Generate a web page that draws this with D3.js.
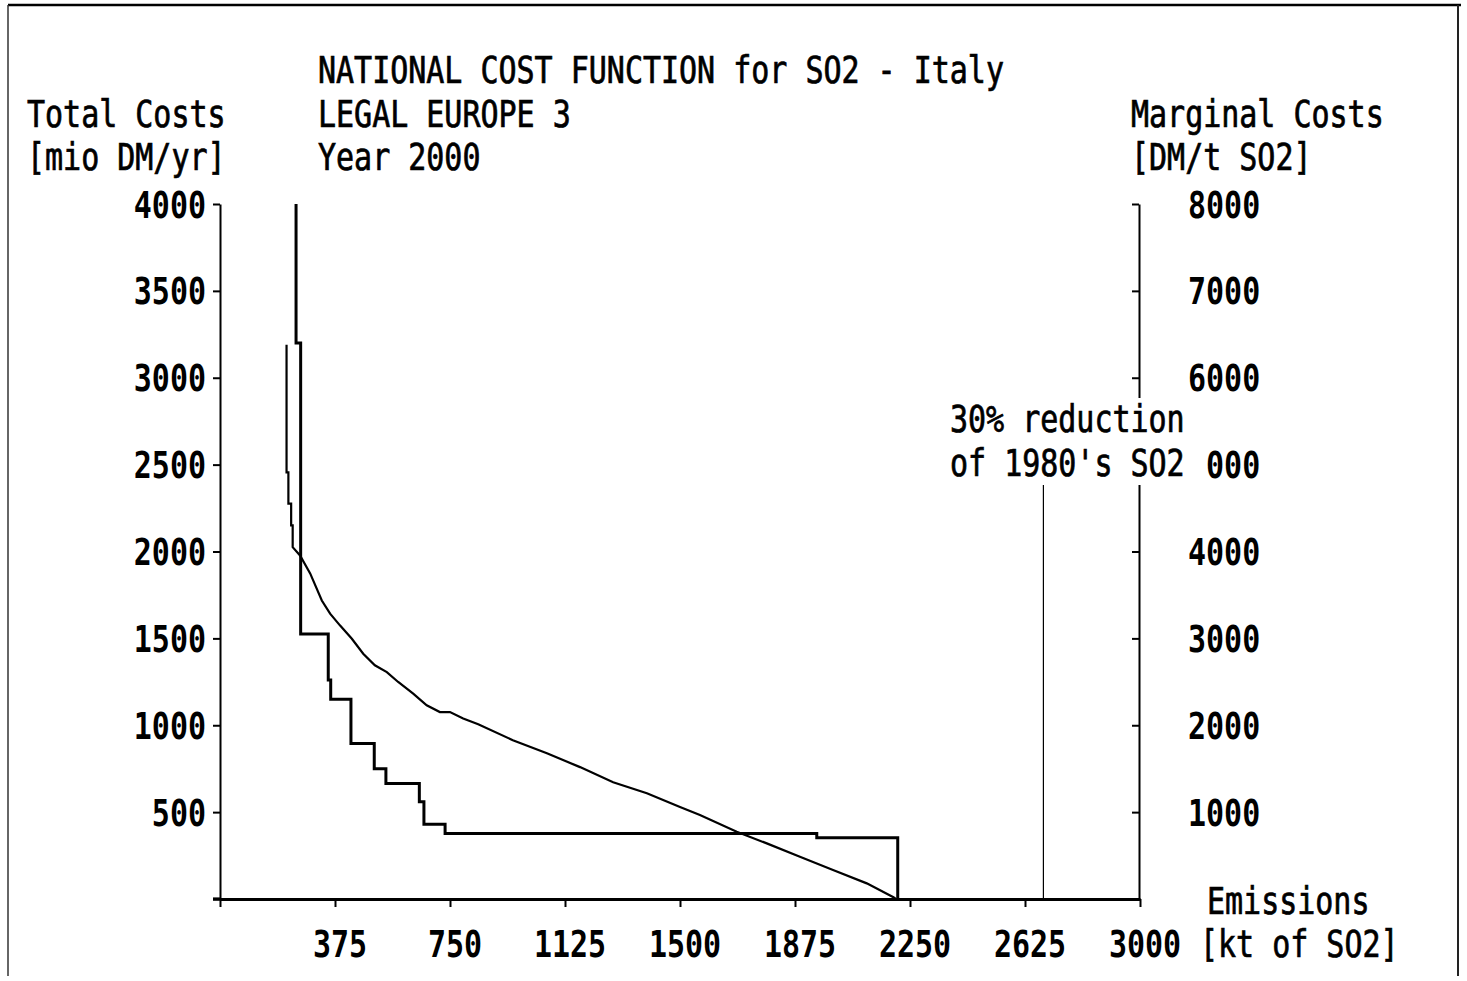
<!DOCTYPE html>
<html>
<head>
<meta charset="utf-8">
<script src="https://cdn.jsdelivr.net/npm/d3@7"></script>
<style>
  html, body { margin: 0; padding: 0; background: #fff; }
  svg { display: block; }
  text { font-family: "DejaVu Sans Mono", "Liberation Mono", monospace; fill: #000; }
</style>
</head>
<body>
<svg id="chart" width="1467" height="981"></svg>
<script>
// ---- data ----
const titleLines = ["NATIONAL COST FUNCTION for SO2 - Italy", "LEGAL EUROPE 3", "Year 2000"];
const leftTitle = ["Total Costs", "[mio DM/yr]"];
const rightTitle = ["Marginal Costs", "[DM/t SO2]"];
const xTitle = ["Emissions", "[kt of SO2]"];
const xTicks = [0, 375, 750, 1125, 1500, 1875, 2250, 2625, 3000];
const leftTicks = [0, 500, 1000, 1500, 2000, 2500, 3000, 3500, 4000];
const rightTicks = [0, 1000, 2000, 3000, 4000, 5000, 6000, 7000, 8000];

// total costs (left axis, mio DM/yr) vs emissions (kt SO2)
const tcEmissions = [217, 217, 223, 223, 232, 232, 237, 237, 261, 294, 332, 359, 391, 430, 467, 505, 544, 581,
  630, 674, 717, 750, 793, 842, 955, 1066, 1174, 1282, 1392, 1500, 1565, 1685, 1783, 1891, 1999, 2109, 2196, 2204];
const tcValues = [3190, 2455, 2455, 2275, 2275, 2150, 2150, 2025, 1977, 1874, 1718, 1642, 1575, 1498, 1412, 1345, 1306, 1249,
  1182, 1115, 1076, 1076, 1039, 1006, 914, 839, 759, 672, 609, 529, 483, 387, 320, 243, 167, 90, 10, 0];

// marginal costs (right axis, DM/t SO2), step function
const mcEmissions = [248, 248, 263, 353, 361, 427, 503, 541, 650, 665, 734, 1946, 2210];
const mcValues = [8000, 6400, 3050, 2520, 2300, 1790, 1500, 1330, 1120, 860, 755, 705, 0];

const reductionTarget = 2685;
const annotationLines = ["30% reduction", "of 1980's SO2"];

// ---- layout ----
const svg = d3.select("#chart");
const x = d3.scaleLinear().domain([0, 3000]).range([220, 1140]);
const yL = d3.scaleLinear().domain([0, 4000]).range([899, 204]);
const yR = d3.scaleLinear().domain([0, 8000]).range([899, 204]);
const FS = 30, SY = 1.23, CW = 18.1;

function txt(g, px, py, s, anchor, weight) {
  const t = g.append("text")
    .attr("transform", `translate(${px},${py}) scale(1,${SY})`)
    .attr("font-size", FS)
    .attr("font-weight", weight || "normal")
    .attr("text-anchor", anchor || "start")
    .text(s);
  if (!weight) t.attr("stroke", "#000").attr("stroke-width", 0.6);
  return t;
}

// frame
svg.append("line").attr("x1", 8).attr("x2", 1461).attr("y1", 5).attr("y2", 5).attr("stroke", "#000").attr("stroke-width", 2.5);
svg.append("line").attr("x1", 1458).attr("x2", 1458).attr("y1", 5).attr("y2", 976).attr("stroke", "#222").attr("stroke-width", 2);
svg.append("line").attr("x1", 8).attr("x2", 8).attr("y1", 5).attr("y2", 976).attr("stroke", "#333").attr("stroke-width", 1.5);

// titles
const tg = svg.append("g");
txt(tg, 318, 83, titleLines[0]);
txt(tg, 318, 127, titleLines[1]);
txt(tg, 318, 170, titleLines[2]);
txt(tg, 27, 127, leftTitle[0]);
txt(tg, 27, 170, leftTitle[1]);
txt(tg, 1131, 127, rightTitle[0]);
txt(tg, 1131, 170, rightTitle[1]);
txt(tg, 1207, 914, xTitle[0]);
txt(tg, 1200, 957, xTitle[1]);

// axes
const axL = svg.append("g").attr("transform", "translate(220,0)")
  .call(d3.axisLeft(yL).tickValues(leftTicks).tickSize(7).tickSizeOuter(0).tickFormat(""));
const axR = svg.append("g").attr("transform", "translate(1139,0)")
  .call(d3.axisLeft(yR).tickValues(rightTicks).tickSize(7).tickSizeOuter(0).tickFormat(""));
const axX = svg.append("g").attr("transform", "translate(0,899)")
  .call(d3.axisBottom(x).tickValues(xTicks).tickSize(8).tickSizeOuter(0).tickFormat(""));
[axL, axR].forEach(a => { a.select(".domain").attr("stroke", "#000").attr("stroke-width", 2); a.selectAll(".tick line").attr("stroke", "#000").attr("stroke-width", 2); });
axX.select(".domain").attr("stroke", "#000").attr("stroke-width", 3.2);
axX.selectAll(".tick line").attr("stroke", "#000").attr("stroke-width", 2);
svg.append("line").attr("x1", 213).attr("x2", 220).attr("y1", yL(0)).attr("y2", yL(0)).attr("stroke", "#000").attr("stroke-width", 3.2);

// tick labels
const lg = svg.append("g");
leftTicks.filter(v => v > 0).forEach(v => txt(lg, 206, yL(v) + 13.5, String(v), "end", "bold"));
rightTicks.filter(v => v > 0).forEach(v => txt(lg, 1188, yR(v) + 13.5, String(v), "start", "bold"));
xTicks.filter(v => v > 0).forEach(v => txt(lg, x(v) + 5, 957, String(v), "middle", "bold"));

// total cost curve
const tcData = tcEmissions.map((e, i) => [e, tcValues[i]]);
svg.append("path").datum(tcData)
  .attr("fill", "none").attr("stroke", "#000").attr("stroke-width", 2.2)
  .attr("d", d3.line().x(d => x(d[0])).y(d => yL(d[1])));

// marginal cost step curve
const mcData = mcEmissions.map((e, i) => [e, mcValues[i]]);
svg.append("path").datum(mcData)
  .attr("fill", "none").attr("stroke", "#000").attr("stroke-width", 3)
  .attr("d", d3.line().x(d => x(d[0])).y(d => yR(d[1])).curve(d3.curveStepAfter));

// annotation (its white box hides part of the right axis and tick label, as in the original)
const ax0 = 948, ay1 = 432, ay2 = 476;
const annBottom = 485;
svg.append("rect").attr("x", ax0).attr("y", 398).attr("width", annotationLines[0].length * CW + 4).attr("height", 44).attr("fill", "#fff");
svg.append("rect").attr("x", ax0).attr("y", 442).attr("width", (annotationLines[1].length + 1) * CW + 4).attr("height", annBottom - 442).attr("fill", "#fff");
txt(svg, 950, ay1, annotationLines[0]);
txt(svg, 950, ay2, annotationLines[1]);
svg.append("line")
  .attr("x1", x(reductionTarget)).attr("x2", x(reductionTarget))
  .attr("y1", annBottom).attr("y2", yL(0))
  .attr("stroke", "#000").attr("stroke-width", 1.2);
</script>
</body>
</html>
